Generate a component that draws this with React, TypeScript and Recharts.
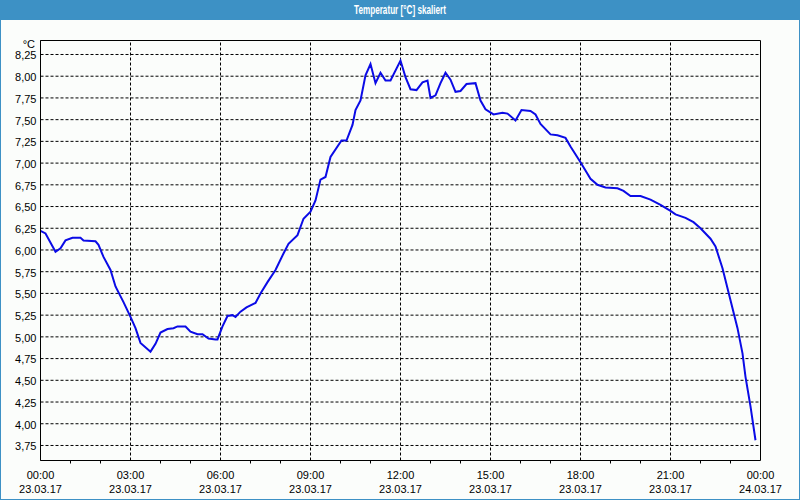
import { LineChart, Line, XAxis, YAxis, CartesianGrid, ReferenceLine } from 'recharts';

// minutes since 00:00 on 23.03.17
const minutes = [
  0, 10, 30, 40, 50, 64, 80, 86, 110, 116, 126, 140, 150, 166, 180, 190, 200, 220, 230, 240,
  254, 266, 274, 290, 300, 314, 324, 336, 350, 354, 364, 374, 384, 390, 400, 412, 430, 440, 454, 470,
  486, 496, 514, 526, 540, 550, 560, 570, 580, 602, 612, 624, 630, 640, 650, 660, 670, 680, 690, 700,
  720, 730, 740, 752, 764, 774, 780, 790, 800, 810, 820, 830, 840, 852, 870, 880, 890, 906, 924, 934,
  950, 962, 980, 990, 1000, 1020, 1034, 1050, 1060, 1080, 1100, 1114, 1130, 1154, 1166, 1180, 1200, 1220, 1240, 1260,
  1270, 1290, 1306, 1320, 1340, 1350, 1364, 1374, 1384, 1394, 1404, 1410, 1420, 1430,
];

const temps = [
  6.22, 6.19, 5.98, 6.02, 6.11, 6.14, 6.14, 6.11, 6.10, 6.06, 5.92, 5.77, 5.58, 5.40, 5.23, 5.10, 4.93, 4.83, 4.92, 5.05,
  5.09, 5.10, 5.12, 5.12, 5.06, 5.03, 5.03, 4.98, 4.97, 4.97, 5.12, 5.24, 5.25, 5.23, 5.29, 5.34, 5.39, 5.50, 5.63, 5.77,
  5.96, 6.07, 6.17, 6.36, 6.44, 6.57, 6.81, 6.84, 7.07, 7.26, 7.26, 7.44, 7.61, 7.72, 8.01, 8.14, 7.92, 8.04, 7.95, 7.95,
  8.18, 7.99, 7.85, 7.84, 7.93, 7.95, 7.75, 7.78, 7.92, 8.04, 7.96, 7.82, 7.83, 7.91, 7.92, 7.72, 7.62, 7.56, 7.58, 7.57,
  7.49, 7.61, 7.60, 7.56, 7.45, 7.33, 7.32, 7.29, 7.19, 7.01, 6.82, 6.75, 6.72, 6.71, 6.68, 6.62, 6.62, 6.58, 6.52, 6.45,
  6.41, 6.37, 6.32, 6.25, 6.13, 6.04, 5.79, 5.56, 5.33, 5.10, 4.81, 4.54, 4.20, 3.81,
];

const yTicks = [3.75, 4, 4.25, 4.5, 4.75, 5, 5.25, 5.5, 5.75, 6, 6.25, 6.5, 6.75, 7, 7.25, 7.5, 7.75, 8, 8.25];
const hourTicks = [
  0, 60, 120, 180, 240, 300, 360, 420, 480, 540, 600, 660, 720,
  780, 840, 900, 960, 1020, 1080, 1140, 1200, 1260, 1320, 1380, 1440,
];
const majorTicks = [0, 180, 360, 540, 720, 900, 1080, 1260, 1440];
const majorTimes = ['00:00', '03:00', '06:00', '09:00', '12:00', '15:00', '18:00', '21:00', '00:00'];
const majorDates = ['23.03.17', '23.03.17', '23.03.17', '23.03.17', '23.03.17', '23.03.17', '23.03.17', '23.03.17', '24.03.17'];

const yDomain = [3.577, 8.411];
const font = '"Liberation Sans", Arial, sans-serif';

const data = minutes.map((m, i) => ({ t: m, temp: temps[i] }));

function TimeTick({ x, y, payload }: any) {
  const idx = majorTicks.indexOf(payload.value);
  if (idx < 0) {
    return <line x1={x} x2={x} y1={y} y2={y + 3} stroke="#000" />;
  }
  return (
    <g fontFamily={font} fontSize={11} fill="#000">
      <text x={x} y={y + 18} textAnchor="middle">{majorTimes[idx]}</text>
      <text x={x} y={y + 32} textAnchor="middle">{majorDates[idx]}</text>
    </g>
  );
}

export default function App() {
  return (
    <div style={{ position: 'absolute', left: 0, top: 0, width: 800, height: 500, background: '#fbfdfb', overflow: 'hidden' }}>
      <div style={{ position: 'absolute', inset: 0, border: '1px solid #3d91c5', pointerEvents: 'none' }} />
      <div style={{ position: 'absolute', left: 0, top: 0, width: 800, height: 20, background: '#3d91c5' }}>
        <svg width={800} height={20}>
          <text x={400} y={14} textAnchor="middle" fill="#fff" fontFamily={font} fontWeight="bold" fontSize={12}
            textLength={92} lengthAdjust="spacingAndGlyphs">
            Temperatur [°C] skaliert
          </text>
        </svg>
      </div>
      <div style={{ position: 'absolute', left: 15, top: 39, width: 20, textAlign: 'right', fontFamily: font, fontSize: 11, lineHeight: '11px', color: '#000' }}>
        °C
      </div>
      <div style={{ position: 'absolute', left: 0, top: 0 }}>
        <LineChart width={800} height={500} data={data} margin={{ top: 40.5, right: 39.5, left: 0.5, bottom: 0 }}>
          <CartesianGrid vertical={false} stroke="#000" strokeDasharray="3 2" />
          {majorTicks.slice(1, -1).map((v) => (
            <ReferenceLine key={v} x={v} stroke="#000" strokeDasharray="3 2" />
          ))}
          <ReferenceLine x={1440} stroke="#000" />
          <ReferenceLine y={yDomain[1]} stroke="#000" />
          <XAxis
            type="number"
            dataKey="t"
            domain={[0, 1440]}
            ticks={hourTicks}
            interval={0}
            tickLine={false}
            tickSize={0}
            tickMargin={0}
            height={39.5}
            axisLine={{ stroke: '#000' }}
            tick={<TimeTick />}
          />
          <YAxis
            type="number"
            domain={yDomain}
            ticks={yTicks}
            interval={0}
            allowDataOverflow
            tickLine={false}
            tickSize={0}
            tickMargin={4}
            width={40}
            axisLine={{ stroke: '#000' }}
            tick={{ fill: '#000', fontSize: 11, fontFamily: font, dy: 1 }}
            tickFormatter={(v: number) => v.toFixed(2).replace('.', ',')}
          />
          <Line
            type="linear"
            dataKey="temp"
            stroke="#0b0be6"
            strokeWidth={2}
            dot={false}
            isAnimationActive={false}
          />
        </LineChart>
      </div>
    </div>
  );
}
